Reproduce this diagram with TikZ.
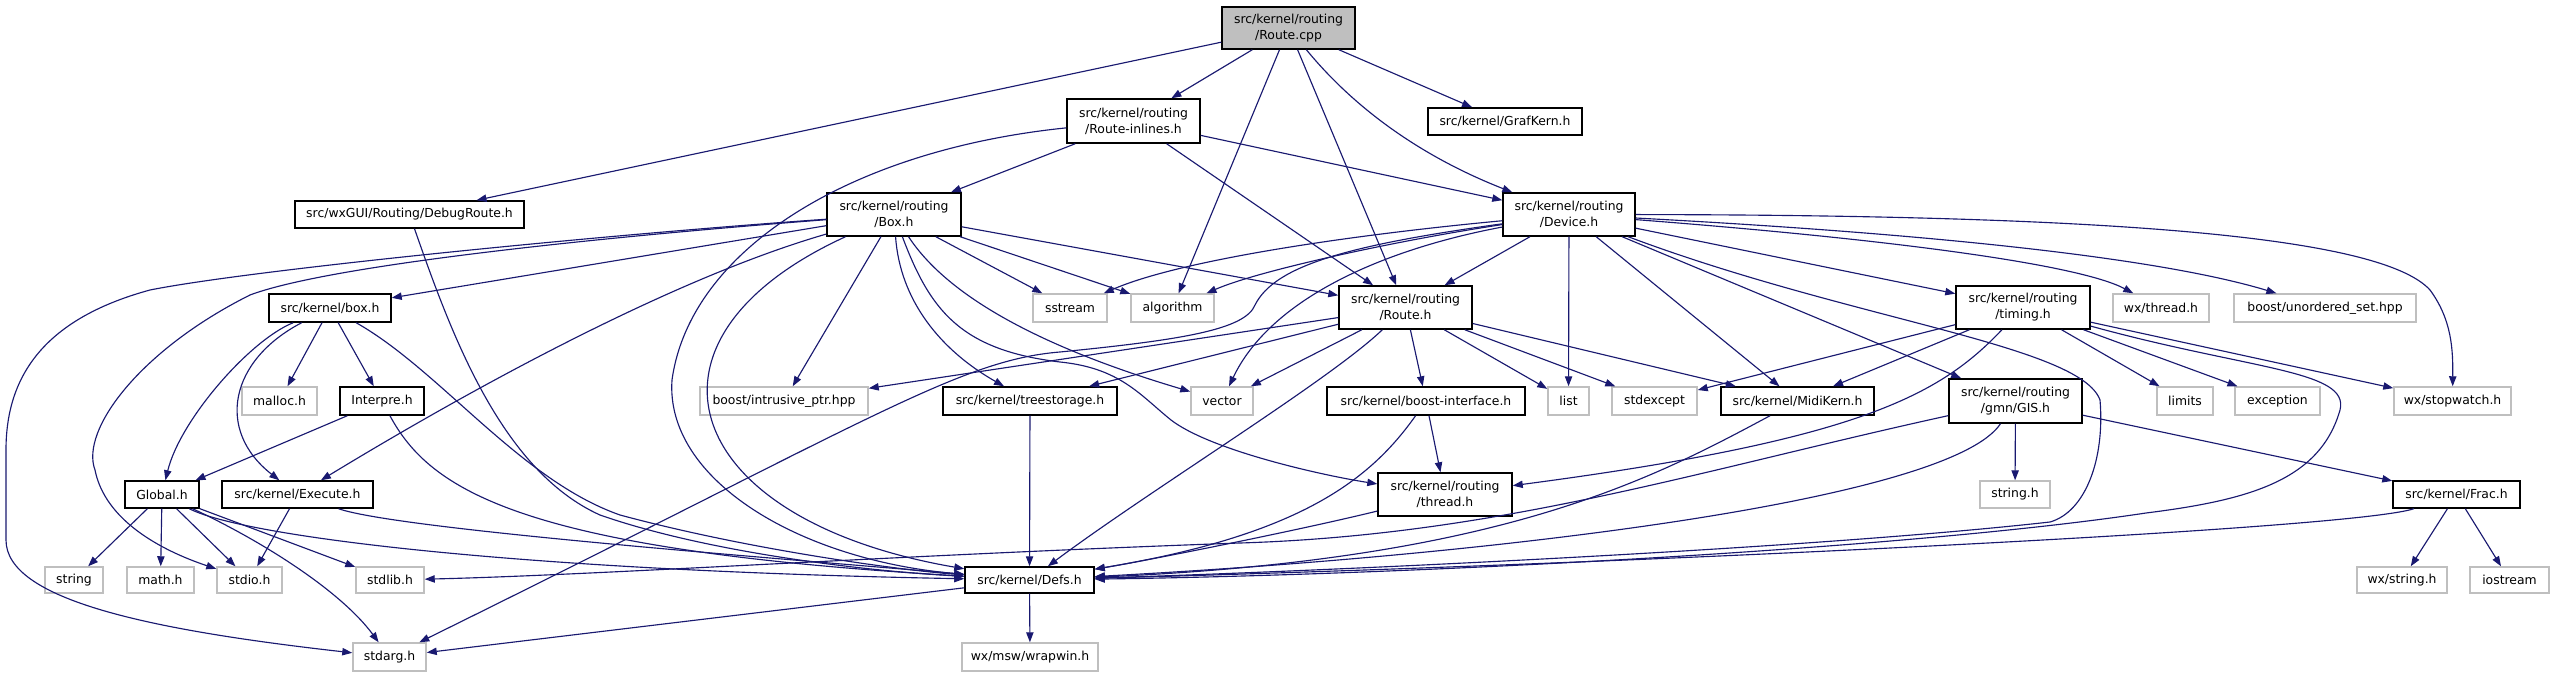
\documentclass[tikz,border=0pt]{standalone}
\usepackage{fontspec}
\setmainfont{DejaVu Sans}
\usetikzlibrary{arrows.meta}
\definecolor{edgec}{HTML}{191970}
\definecolor{grayb}{HTML}{BFBFBF}
\begin{document}
\begin{tikzpicture}[x=0.75pt,y=-0.75pt,
  base/.style={rectangle, inner sep=0pt, font=\fontsize{9.3}{12}\selectfont, align=center, text=black},
  doc/.style={base, draw=black, line width=1.1pt, fill=white},
  ext/.style={base, draw=grayb, line width=1.1pt, fill=white},
  root/.style={doc, fill=grayb},
  sz/.style 2 args={minimum width={#1*0.75pt}, minimum height={#2*0.75pt}},
  e/.style={draw=edgec, line width=0.85pt, -{Triangle[length=7.5pt,width=5.5pt]}}
]
\useasboundingbox (0,0) rectangle (2554,677);
\fill[white] (0,0) rectangle (2554,677);
% documented files
\node[root, sz={133}{42}] (cpp) at (1288.5,28) {src/kernel/routing\\/Route.cpp};
\node[doc, sz={133}{44}] (inl) at (1133.5,121) {src/kernel/routing\\/Route-inlines.h};
\node[doc, sz={229}{27}] (dbg) at (409.5,214.5) {src/wxGUI/Routing/DebugRoute.h};
\node[doc, sz={154}{27}] (grf) at (1505,121.5) {src/kernel/GrafKern.h};
\node[doc, sz={134}{43}] (boxh) at (894,214.5) {src/kernel/routing\\/Box.h};
\node[doc, sz={132}{43}] (dev) at (1569,214.5) {src/kernel/routing\\/Device.h};
\node[doc, sz={122}{28}] (kbox) at (330,308) {src/kernel/box.h};
\node[doc, sz={133}{43}] (rte) at (1405.5,307.5) {src/kernel/routing\\/Route.h};
\node[doc, sz={134}{43}] (tim) at (2023,307.5) {src/kernel/routing\\/timing.h};
\node[doc, sz={84}{28}] (itp) at (382,401) {Interpre.h};
\node[doc, sz={174}{28}] (tree) at (1030,401) {src/kernel/treestorage.h};
\node[doc, sz={198}{28}] (bif) at (1426,401) {src/kernel/boost-interface.h};
\node[doc, sz={153}{28}] (midi) at (1797.5,401) {src/kernel/MidiKern.h};
\node[doc, sz={133}{44}] (gis) at (2015.5,401) {src/kernel/routing\\/gmn/GIS.h};
\node[doc, sz={74}{27}] (glob) at (162,494.5) {Global.h};
\node[doc, sz={151}{27}] (exe) at (297.5,494.5) {src/kernel/Execute.h};
\node[doc, sz={134}{43}] (thr) at (1445,494.5) {src/kernel/routing\\/thread.h};
\node[doc, sz={127}{27}] (frac) at (2456.5,494.5) {src/kernel/Frac.h};
\node[doc, sz={129}{26}] (defs) at (1029.5,580) {src/kernel/Defs.h};
% external files
\node[ext, sz={74}{28}] (sstr) at (1070,308) {sstream};
\node[ext, sz={83}{28}] (alg) at (1172.5,308) {algorithm};
\node[ext, sz={96}{28}] (wxth) at (2161,308) {wx/thread.h};
\node[ext, sz={182}{28}] (uset) at (2325,308) {boost/unordered\_set.hpp};
\node[ext, sz={75}{28}] (malloc) at (279.5,401) {malloc.h};
\node[ext, sz={168}{28}] (iptr) at (784,401) {boost/intrusive\_ptr.hpp};
\node[ext, sz={62}{28}] (vec) at (1222,401) {vector};
\node[ext, sz={41}{28}] (lst) at (1568.5,401) {list};
\node[ext, sz={85}{28}] (sexc) at (1654.5,401) {stdexcept};
\node[ext, sz={56}{28}] (lim) at (2185,401) {limits};
\node[ext, sz={85}{28}] (exc) at (2277.5,401) {exception};
\node[ext, sz={117}{28}] (swatch) at (2452.5,401) {wx/stopwatch.h};
\node[ext, sz={70}{27}] (strh) at (2015,494.5) {string.h};
\node[ext, sz={58}{26}] (string) at (74,580) {string};
\node[ext, sz={67}{26}] (math) at (160.5,580) {math.h};
\node[ext, sz={65}{26}] (stdio) at (249.5,580) {stdio.h};
\node[ext, sz={68}{26}] (stdlib) at (390,580) {stdlib.h};
\node[ext, sz={90}{26}] (wxstr) at (2402,580) {wx/string.h};
\node[ext, sz={79}{26}] (iostr) at (2509.5,580) {iostream};
\node[ext, sz={73}{28}] (stdarg) at (389.5,657) {stdarg.h};
\node[ext, sz={136}{28}] (wrap) at (1030,657) {wx/msw/wrapwin.h};
% Route.cpp
\draw[e] (cpp) -- (dbg);
\draw[e] (cpp) -- (inl);
\draw[e] (cpp) -- (alg);
\draw[e] (cpp) -- (rte);
\draw[e] (cpp) .. controls (1360,115) and (1430,160) .. (dev);
\draw[e] (cpp) -- (grf);
% Route-inlines.h
\draw[e] (inl) -- (boxh);
\draw[e] (inl) -- (dev);
\draw[e] (inl) -- (rte);
\draw[e] (inl) .. controls (850,150) and (690,250) .. (672,380) .. controls (665,480) and (800,560) .. (defs);
% DebugRoute.h
\draw[e] (dbg) .. controls (450,330) and (500,470) .. (600,515) .. controls (700,550) and (850,570) .. (defs);
% Box.h
\draw[e] (boxh) -- (kbox);
\draw[e] (boxh) .. controls (650,285) and (420,420) .. (exe);
\draw[e] (boxh) .. controls (600,237) and (330,265) .. (250,295) .. controls (140,350) and (80,430) .. (95,470) .. controls (105,520) and (160,550) .. (stdio);
\draw[e] (boxh) .. controls (600,235) and (250,270) .. (150,290) .. controls (40,320) and (6,380) .. (6,450) -- (6,540) .. controls (6,600) and (150,630) .. (stdarg);
\draw[e] (boxh) .. controls (620,340) and (680,520) .. (defs);
\draw[e] (boxh) -- (iptr);
\draw[e] (boxh) .. controls (900,300) and (940,350) .. (tree);
\draw[e] (boxh) .. controls (930,310) and (960,350) .. (1060,362) .. controls (1120,368) and (1140,395) .. (1171,420) .. controls (1210,450) and (1320,475) .. (thr);
\draw[e] (boxh) .. controls (950,300) and (1050,350) .. (vec);
\draw[e] (boxh) -- (sstr);
\draw[e] (boxh) -- (alg);
\draw[e] (boxh) -- (rte);
% box.h
\draw[e] (kbox) -- (malloc);
\draw[e] (kbox) -- (itp);
\draw[e] (kbox) .. controls (250,340) and (180,420) .. (glob);
\draw[e] (kbox) .. controls (230,360) and (215,430) .. (exe);
\draw[e] (kbox) .. controls (440,370) and (520,480) .. (620,515) .. controls (750,550) and (900,570) .. (defs);
% Interpre.h
\draw[e] (itp) -- (glob);
\draw[e] (itp) .. controls (430,490) and (520,550) .. (defs);
% Global.h
\draw[e] (glob) -- (string);
\draw[e] (glob) -- (math);
\draw[e] (glob) -- (stdio);
\draw[e] (glob) -- (stdlib);
\draw[e] (glob) .. controls (260,540) and (340,590) .. (stdarg);
\draw[e] (glob) .. controls (240,535) and (500,570) .. (defs);
% Execute.h
\draw[e] (exe) -- (stdio);
\draw[e] (exe) .. controls (400,530) and (800,560) .. (defs);
% Defs.h
\draw[e] (defs) -- (stdarg);
\draw[e] (defs) -- (wrap);
% Device.h
\draw[e] (dev) -- (rte);
\draw[e] (dev) .. controls (1350,235) and (1180,260) .. (sstr);
\draw[e] (dev) .. controls (1400,240) and (1260,270) .. (alg);
\draw[e] (dev) .. controls (1380,250) and (1270,300) .. (vec);
\draw[e] (dev) .. controls (1350,245) and (1275,265) .. (1255,305) .. controls (1245,330) and (1180,340) .. (1060,352) .. controls (960,360) and (870,420) .. (stdarg);
\draw[e] (dev) -- (lst);
\draw[e] (dev) -- (midi);
\draw[e] (dev) -- (gis);
\draw[e] (dev) -- (tim);
\draw[e] (dev) .. controls (1900,240) and (2080,265) .. (wxth);
\draw[e] (dev) .. controls (1900,232) and (2150,255) .. (uset);
\draw[e] (dev) .. controls (2100,215) and (2380,235) .. (2430,290) .. controls (2452,320) and (2453,350) .. (swatch);
\draw[e] (dev) .. controls (1850,320) and (2080,345) .. (2100,400) .. controls (2105,460) and (2085,512) .. (2050,522) .. controls (1800,550) and (1300,572) .. (defs);
% timing.h
\draw[e] (tim) -- (sexc);
\draw[e] (tim) -- (midi);
\draw[e] (tim) .. controls (1940,395) and (1860,440) .. (thr);
\draw[e] (tim) -- (lim);
\draw[e] (tim) -- (exc);
\draw[e] (tim) -- (swatch);
\draw[e] (tim) .. controls (2250,370) and (2350,370) .. (2340,410) .. controls (2320,480) and (2250,500) .. (2146,513) .. controls (1900,550) and (1400,575) .. (defs);
% GIS.h
\draw[e] (gis) -- (strh);
\draw[e] (gis) -- (frac);
\draw[e] (gis) .. controls (1700,470) and (1500,535) .. (1240,543) .. controls (900,555) and (600,575) .. (stdlib);
\draw[e] (gis) .. controls (1950,500) and (1500,555) .. (defs);
% Frac.h
\draw[e] (frac) -- (wxstr);
\draw[e] (frac) -- (iostr);
\draw[e] (frac) .. controls (2350,530) and (1600,565) .. (defs);
% Route.h
\draw[e] (rte) -- (iptr);
\draw[e] (rte) -- (tree);
\draw[e] (rte) -- (vec);
\draw[e] (rte) -- (bif);
\draw[e] (rte) -- (lst);
\draw[e] (rte) -- (sexc);
\draw[e] (rte) -- (midi);
\draw[e] (rte) .. controls (1330,380) and (1150,490) .. (defs);
% others
\draw[e] (bif) -- (thr);
\draw[e] (bif) .. controls (1370,480) and (1300,535) .. (defs);
\draw[e] (midi) .. controls (1650,480) and (1500,560) .. (defs);
\draw[e] (thr) .. controls (1300,530) and (1150,560) .. (defs);
\draw[e] (tree) -- (defs);
\end{tikzpicture}
\end{document}
